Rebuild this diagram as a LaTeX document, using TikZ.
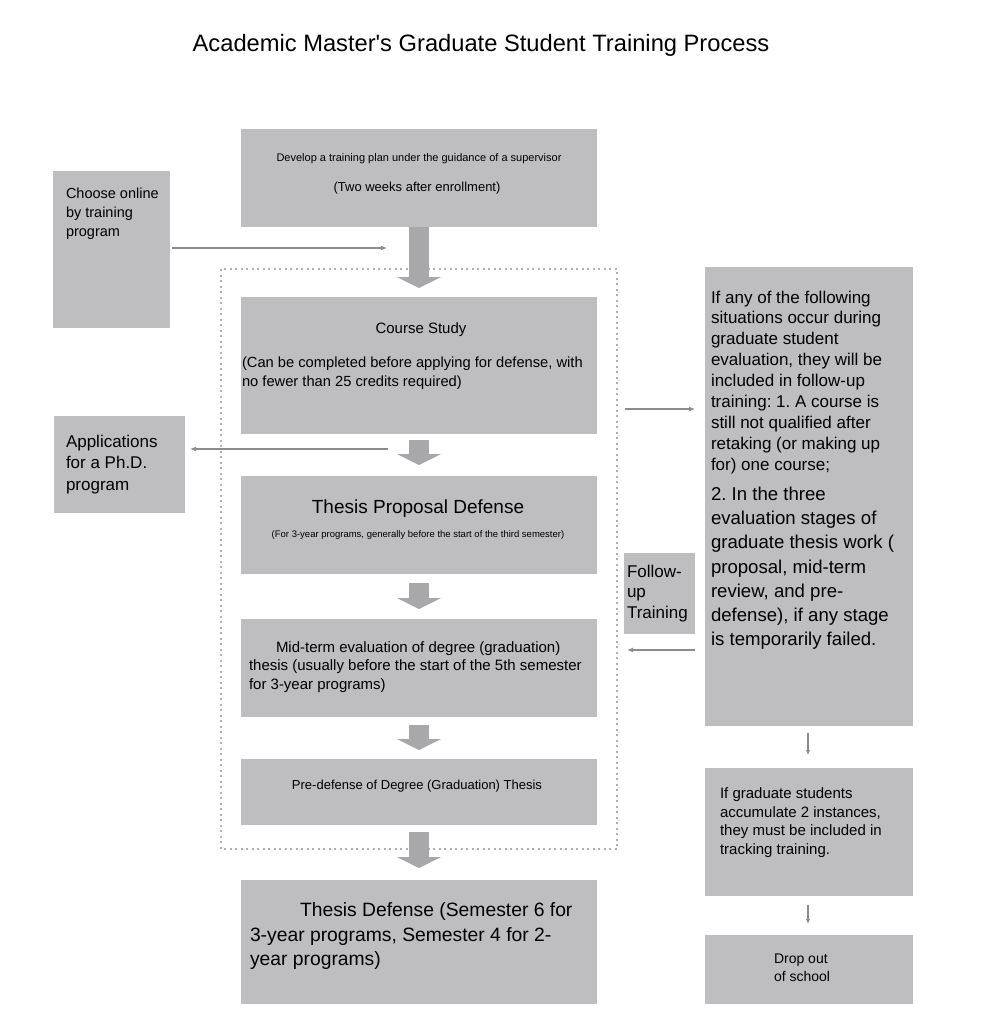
\documentclass[tikz,border=0pt]{standalone}
\usepackage{fontspec}
\setmainfont{Liberation Sans}
\usetikzlibrary{arrows.meta,calc}
\frenchspacing
\definecolor{boxgray}{RGB}{190,190,193}
\definecolor{bigarrow}{RGB}{168,168,171}
\definecolor{thinarrow}{RGB}{140,140,143}
\definecolor{dotgray}{RGB}{175,175,178}
\newcommand{\fs}[2]{\fontsize{#1}{#2}\selectfont}
\tikzset{
  box/.style={fill=boxgray, draw=none, inner sep=0pt, outer sep=0pt, anchor=north west},
  txt/.style={inner sep=0pt, outer sep=0pt, text=black, align=left, anchor=north west},
  ctxt/.style={inner sep=0pt, outer sep=0pt, text=black, align=center, anchor=north},
  blockarrow/.style={draw=bigarrow, line width=20pt, -{Triangle[width=44pt,length=11pt]}},
  thin/.style={draw=thinarrow, line width=1.8pt, -{Latex[length=6pt,width=5pt]}},
  tiny/.style={draw=thinarrow, line width=1.6pt, -{Latex[length=5pt,width=4.5pt]}},
}
\begin{document}
\begin{tikzpicture}[x=1pt,y=-1pt]
\useasboundingbox[fill=white] (0,0) rectangle (985,1024);

% title
\node[inner sep=0pt, anchor=base, font={\fs{23.7}{27}}] (title) at (481,52) {Academic Master\textquotesingle s Graduate Student Training Process};

% dotted frame
\draw[dotgray, line width=1.5pt, dash pattern=on 2pt off 3.5pt] (221,269) rectangle (617,849);

% boxes
\node[box, minimum width=356pt, minimum height=98pt] (dev) at (241,129) {};
\node[box, minimum width=117pt, minimum height=157pt] (choose) at (53,171) {};
\node[box, minimum width=356pt, minimum height=137pt] (course) at (241,297) {};
\node[box, minimum width=131pt, minimum height=97pt] (apps) at (54,416) {};
\node[box, minimum width=356pt, minimum height=98pt] (prop) at (241,476) {};
\node[box, minimum width=356pt, minimum height=98pt] (mid) at (241,619) {};
\node[box, minimum width=356pt, minimum height=66pt] (pre) at (241,759) {};
\node[box, minimum width=356pt, minimum height=124pt] (def) at (241,880) {};
\node[box, minimum width=208pt, minimum height=459pt] (cond) at (705,267) {};
\node[box, minimum width=71pt, minimum height=81pt] (follow) at (624,553) {};
\node[box, minimum width=208pt, minimum height=128pt] (grad) at (705,768) {};
\node[box, minimum width=208pt, minimum height=69pt] (drop) at (705,935) {};

% texts
\node[ctxt, font={\fs{11}{13}}] (devA) at (419,154) {Develop a training plan under the guidance of a supervisor};
\node[ctxt, font={\fs{13}{15}}] (devB) at (417,182.2) {(Two weeks after enrollment)};
\node[txt, font={\fs{14.5}{19}}] (chooseT) at (66,187.6) {Choose online\\by training\\program};
\node[ctxt, font={\fs{15}{17}}] (courseA) at (421,322.5) {Course Study};
\node[txt, font={\fs{14.7}{19}}] (courseB) at (242,356.6) {(Can be completed before applying for defense, with\\no fewer than 25 credits required)};
\node[txt, font={\fs{17}{21.5}}] (appsT) at (66,434.7) {Applications\\for a Ph.D.\\program};
\node[ctxt, font={\fs{19}{22}}] (propA) at (418,500) {Thesis Proposal Defense};
\node[ctxt, font={\fs{9.5}{11}}] (propB) at (418,530.5) {(For 3-year programs, generally before the start of the third semester)};
\node[txt, font={\fs{15}{18.5}}] (midT) at (249,641.4) {\hspace*{27pt}Mid-term evaluation of degree (graduation)\\thesis (usually before the start of the 5th semester\\for 3-year programs)};
\node[ctxt, font={\fs{13}{15}}] (preT) at (417,780.2) {Pre-defense of Degree (Graduation) Thesis};
\node[txt, font={\fs{19.3}{24.5}}] (defT) at (250,903) {\hspace*{50pt}Thesis Defense (Semester 6 for\\3-year programs, Semester 4 for 2-\\year programs)};
\node[txt, font={\fs{17}{20.9}}] (condA) at (711,290.7) {If any of the following\\situations occur during\\graduate student\\evaluation, they will be\\included in follow-up\\training: 1. A course is\\still not qualified after\\retaking (or making up\\for) one course;};
\node[txt, font={\fs{18.6}{24.2}}] (condB) at (711,487) {2. In the three\\evaluation stages of\\graduate thesis work (\\proposal, mid-term\\review, and pre-\\defense), if any stage\\is temporarily failed.};
\node[txt, font={\fs{17}{20.5}}] (followT) at (627,564.7) {Follow-\\up\\Training};
\node[txt, font={\fs{15}{18.7}}] (gradT) at (720,787.5) {If graduate students\\accumulate 2 instances,\\they must be included in\\tracking training.};
\node[txt, font={\fs{14}{18}}] (dropT) at (774,953.8) {Drop out\\of school};

% block arrows
\draw[blockarrow, shorten >=9pt] (dev.south) -- (course.north);
\draw[blockarrow, shorten <=6pt, shorten >=11pt] (course.south) -- (prop.north);
\draw[blockarrow, shorten <=9pt, shorten >=10pt] (prop.south) -- (mid.north);
\draw[blockarrow, shorten <=8pt, shorten >=9pt] (mid.south) -- (pre.north);
\draw[blockarrow, shorten <=7pt, shorten >=12pt] (pre.south) -- (def.north);

% thin arrows
\coordinate (c1) at (387,248);
\draw[thin, shorten <=2pt] (choose.east |- c1) -- (c1);
\coordinate (c2) at (388,449);
\draw[thin, shorten >=5pt] (c2) -- (apps.east |- c2);
\coordinate (c3) at (625,409);
\draw[thin, shorten >=10pt] (c3) -- (cond.west |- c3);
\coordinate (c4) at (627,650);
\draw[thin, shorten <=10pt] (cond.west |- c4) -- (c4);
\draw[tiny, shorten <=7pt, shorten >=13pt] ([xshift=-1pt]cond.south) -- ([xshift=-1pt]grad.north);
\draw[tiny, shorten <=9pt, shorten >=11pt] ([xshift=-1pt]grad.south) -- ([xshift=-1pt]drop.north);
\end{tikzpicture}
\end{document}
